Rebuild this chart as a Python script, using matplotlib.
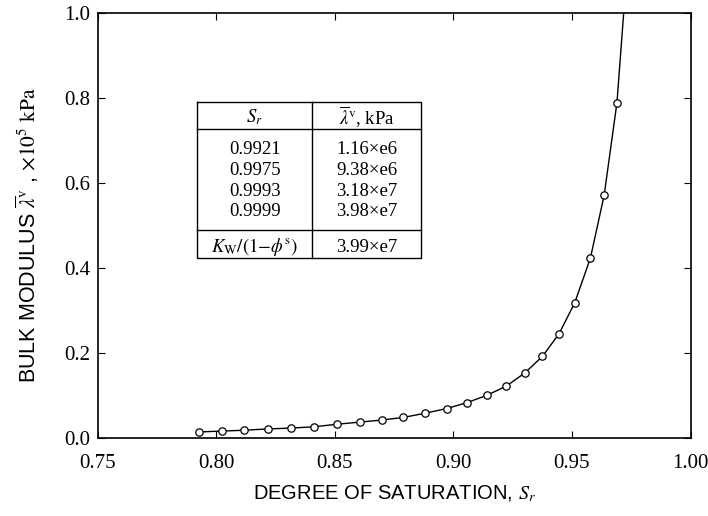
import matplotlib.pyplot as plt
import numpy as np

plt.rcParams['mathtext.fontset'] = 'stix'
plt.rcParams['font.family'] = ['Liberation Serif', 'DejaVu Serif']

# ====================== DATOS ======================
# Grado de saturacion (eje x) y modulo volumetrico (x1e5 kPa)
saturacion = [0.7928, 0.8025, 0.8119, 0.8217, 0.8314, 0.8411, 0.8508, 0.8605,
              0.8698, 0.8789, 0.8881, 0.8972, 0.9058, 0.9141, 0.9224, 0.9302,
              0.9376, 0.9446, 0.9512, 0.9578, 0.9636, 0.9690]
modulo = [0.015, 0.017, 0.019, 0.022, 0.024, 0.027, 0.033, 0.038,
          0.043, 0.049, 0.059, 0.070, 0.084, 0.101, 0.123, 0.154,
          0.193, 0.246, 0.319, 0.424, 0.572, 0.790]
# la linea sigue subiendo fuera del grafico (sin marcador)
cola_sat = [0.9725]
cola_mod = [1.05]

x_ticks = [0.75, 0.80, 0.85, 0.90, 0.95, 1.00]
y_ticks = [0.0, 0.2, 0.4, 0.6, 0.8, 1.0]

# tabla insertada
tabla_cabecera = [r"$S_r$", r"$\overline{\lambda}^{\mathrm{v}}$, kPa"]
tabla_sr = ["0.9921", "0.9975", "0.9993", "0.9999"]
tabla_lam = ["1.16\u00d7e6", "9.38\u00d7e6", "3.18\u00d7e7", "3.98\u00d7e7"]
tabla_pie = [r"$K_{\mathrm{W}}/(1{-}\phi^{\mathrm{s}})$", "3.99\u00d7e7"]

# ====================== FIGURA ======================
W, H = 708, 516
fig = plt.figure(figsize=(W / 100, H / 100), dpi=100)
ax_l, ax_r, ax_t, ax_b = 97.5, 690.5, 13.3, 438.3
ax = fig.add_axes([ax_l / W, 1 - ax_b / H, (ax_r - ax_l) / W, (ax_b - ax_t) / H])


def fx(px):
    return (px - ax_l) / (ax_r - ax_l)


def fy(py):
    return (ax_b - py) / (ax_b - ax_t)


x_linea = saturacion + cola_sat
y_linea = modulo + cola_mod
ax.plot(x_linea, y_linea, '-', color='black', linewidth=1.0)
ax.plot(saturacion, modulo, 'o', markersize=5.3, markerfacecolor='white',
        markeredgecolor='black', markeredgewidth=0.9)

ax.set_xlim(0.75, 1.00)
ax.set_ylim(0.0, 1.0)
ax.set_xticks(x_ticks)
ax.set_yticks(y_ticks)
ax.set_xticklabels([f"{v:.2f}" for v in x_ticks])
ax.set_yticklabels([f"{v:.1f}" for v in y_ticks])
ax.tick_params(direction='in', length=5, width=0.8, top=True, right=True,
               labelsize=15)
ax.tick_params(axis='x', pad=11)
ax.tick_params(axis='y', pad=5)
for s in ax.spines.values():
    s.set_linewidth(1.2)

ax.set_xlabel("DEGREE OF SATURATION, $S_r$", family='Liberation Sans',
              fontsize=14.5)
ax.xaxis.set_label_coords(0.5, fy(484), transform=ax.transAxes)
ax.set_ylabel(r"BULK MODULUS $\overline{\lambda}^{\mathrm{v}}$ , $\times 10^5\ \mathrm{kPa}$",
              family='Liberation Sans', fontsize=15.5)
ax.yaxis.set_label_coords(fx(41), fy(235), transform=ax.transAxes)

# ---- tabla (coordenadas en pixeles de la figura, convertidas a ejes) ----
t_izq, t_med, t_der = fx(197.3), fx(312.3), fx(421.3)
t_sup, t_cab, t_pie, t_inf = fy(102.3), fy(129), fy(230), fy(258.3)
kw = dict(transform=ax.transAxes, color='black', linewidth=1.0)
ax.plot([t_izq, t_der, t_der, t_izq, t_izq], [t_sup, t_sup, t_inf, t_inf, t_sup], **kw)
ax.plot([t_med, t_med], [t_sup, t_inf], **kw)
ax.plot([t_izq, t_der], [t_cab, t_cab], **kw)
ax.plot([t_izq, t_der], [t_pie, t_pie], **kw)

c1, c2 = (t_izq + t_med) / 2, (t_med + t_der) / 2
txt = dict(transform=ax.transAxes, ha='center', va='center', fontsize=13.5)
ax.text(c1, fy(117.5), tabla_cabecera[0], **txt)
ax.text(c2, fy(117.5), tabla_cabecera[1], **txt)
filas_y = [150, 170.5, 191, 211.5]
for sr, lam, py in zip(tabla_sr, tabla_lam, filas_y):
    ax.text(c1, fy(py), sr, **txt)
    ax.text(c2, fy(py), lam, **txt)
ax.text(c1, fy(247.5), tabla_pie[0], **txt)
ax.text(c2, fy(247.5), tabla_pie[1], **txt)

fig.savefig("out.png", dpi=100)
